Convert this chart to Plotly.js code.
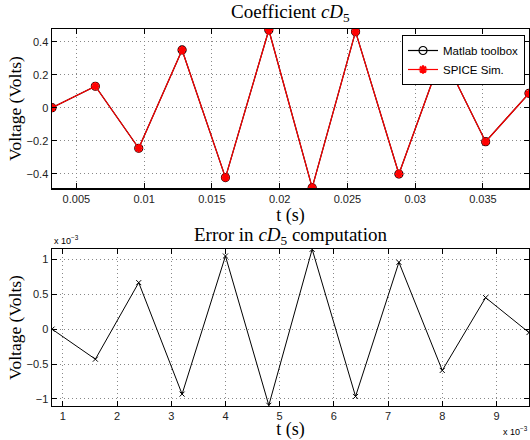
<!DOCTYPE html>
<html><head><meta charset="utf-8">
<script src="https://cdn.plot.ly/plotly-3.0.1.min.js"></script>
<style>html,body{margin:0;padding:0;background:#fff}#plot{width:530px;height:440px}</style>
</head><body><div id="plot"></div>
<script>
// Top: coefficient cD5 (time in s, voltage in V)
const coefT = [0.0032,0.0064,0.0096,0.0128,0.0160,0.0192,0.0224,0.0256,0.0288,0.0320,0.0352,0.0384];
const matlabV = [0.0,0.13,-0.246,0.35,-0.424,0.471,-0.485,0.461,-0.402,0.325,-0.206,0.087];
const spiceV  = [0.0,0.13,-0.246,0.35,-0.424,0.471,-0.485,0.461,-0.402,0.325,-0.206,0.087];
// Bottom: error, both axes in units of 1e-3
const errT_e3 = [0.8,1.6,2.4,3.2,4.0,4.8,5.6,6.4,7.2,8.0,8.8,9.6];
const errV_e3 = [0.0,-0.43,0.666,-0.93,1.047,-1.09,1.143,-0.963,0.957,-0.591,0.451,-0.049];
const seriesNames = ["Matlab toolbox","SPICE Sim."];

const tickFont = {family:"Liberation Sans, Arial, sans-serif", size:11, color:"#222"};
const serif = "Liberation Serif, Times New Roman, serif";

const traces = [
  {x:coefT, y:matlabV, name:seriesNames[0], mode:"lines+markers", xaxis:"x", yaxis:"y",
   line:{color:"#000", width:1.2}, marker:{symbol:"circle-open", size:8, color:"#000", line:{width:1.2, color:"#000"}}},
  {x:coefT, y:spiceV, name:seriesNames[1], mode:"lines+markers", xaxis:"x", yaxis:"y",
   line:{color:"#ff0000", width:1.2}, marker:{symbol:"asterisk-open", size:7, color:"#ff0000", line:{width:2.2, color:"#ff0000"}}},
  {x:errT_e3, y:errV_e3, mode:"lines+markers", xaxis:"x2", yaxis:"y2", showlegend:false,
   line:{color:"#000", width:1}, marker:{symbol:"x-thin-open", size:5, color:"#000", line:{width:1, color:"#000"}}}
];

const axBase = {showline:true, linecolor:"#000", linewidth:1.5, mirror:"ticks", ticks:"inside", ticklen:5,
  tickcolor:"#000", showgrid:true, gridcolor:"#888", griddash:"1px,3px", gridwidth:1, zeroline:false,
  tickfont:tickFont};

const layout = {
  width:530, height:440, margin:{l:0,r:0,t:0,b:0}, paper_bgcolor:"#fff", plot_bgcolor:"#fff",
  showlegend:true,
  legend:{x:525/530, xanchor:"right", y:1-35/440, yanchor:"top", bgcolor:"#fff", bordercolor:"#000", borderwidth:1,
    font:{family:"Liberation Sans, Arial, sans-serif", size:11.5, color:"#000"}, tracegroupgap:0, itemwidth:30},
  xaxis: Object.assign({}, axBase, {domain:[52/530, 529/530], anchor:"y", range:[0.0032,0.0384], dtick:0.005, tick0:0,
    title:{text:"t (s)", font:{family:serif, size:18, color:"#000"}, standoff:1}}),
  yaxis: Object.assign({}, axBase, {domain:[1-188/440, 1-29/440], anchor:"x", range:[-0.487,0.477], dtick:0.2, tick0:0,
    title:{text:"Voltage (Volts)", font:{family:serif, size:17.5, color:"#000"}, standoff:0}}),
  xaxis2: Object.assign({}, axBase, {domain:[52/530, 529/530], anchor:"y2", range:[0.8,9.6], dtick:1, tick0:0,
    title:{text:"t (s)", font:{family:serif, size:18, color:"#000"}, standoff:0}}),
  yaxis2: Object.assign({}, axBase, {domain:[1-405.7/440, 1-249.3/440], anchor:"x2", range:[-1.096,1.143], dtick:0.5, tick0:0,
    title:{text:"Voltage (Volts)", font:{family:serif, size:17.5, color:"#000"}, standoff:0}}),
  annotations:[
    {text:"Coefficient <i>cD</i><sub>5</sub>", xref:"paper", yref:"paper", x:290/530, y:1-13/440, xanchor:"center", yanchor:"middle",
     showarrow:false, font:{family:serif, size:19, color:"#000"}},
    {text:"Error in <i>cD</i><sub>5</sub> computation", xref:"paper", yref:"paper", x:290/530, y:1-236/440, xanchor:"center", yanchor:"middle",
     showarrow:false, font:{family:serif, size:19, color:"#000"}},
    {text:"x 10<sup>−3</sup>", xref:"paper", yref:"paper", x:52/530, y:1-240/440, xanchor:"left", yanchor:"middle",
     showarrow:false, font:{family:"Liberation Sans, Arial, sans-serif", size:9, color:"#000"}},
    {text:"x 10<sup>−3</sup>", xref:"paper", yref:"paper", x:530/530, y:1-431/440, xanchor:"right", yanchor:"middle",
     showarrow:false, font:{family:"Liberation Sans, Arial, sans-serif", size:9, color:"#000"}}
  ]
};
Plotly.newPlot("plot", traces, layout, {staticPlot:true, displayModeBar:false});
</script></body></html>
